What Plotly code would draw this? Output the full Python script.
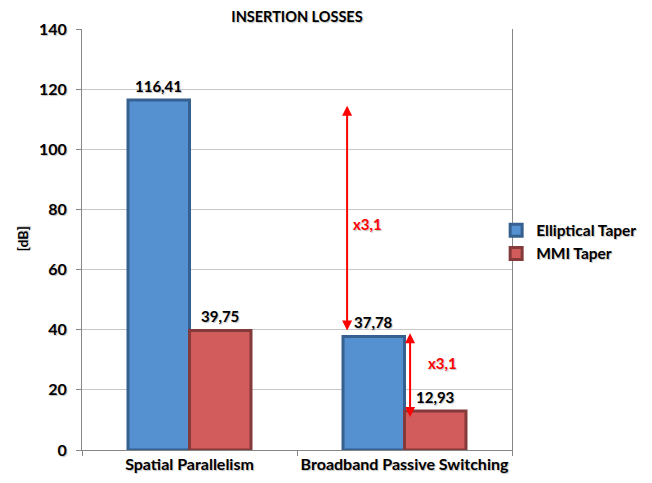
import plotly.graph_objects as go

categories = ["Spatial Parallelism", "Broadband Passive Switching"]
elliptical = [116.41, 37.78]
mmi = [39.75, 12.93]
series_names = ["Elliptical Taper", "MMI Taper"]
y_ticks = [0, 20, 40, 60, 80, 100, 120, 140]

# ratio arrows drawn on the second category
arrow_x = [0.733, 1.026]
arrow_top = [115.0, 39.3]
arrow_bottom = [39.7, 11.0]
ratio_text = ["x3,1", "x3,1"]
ratio_x = [0.83, 1.177]
ratio_y = [75.0, 29.0]

FONT = "Lato, 'Open Sans', Arial, sans-serif"
SHADOW = "1px 1px 1px rgba(0,0,0,0.25)"

def fmt(v):
    return f"{v:.2f}".replace(".", ",")

def bold(size, color="black"):
    return dict(family=FONT, size=size, color=color, weight="bold", shadow=SHADOW)

fig = go.Figure()
fig.add_trace(go.Bar(
    x=categories, y=elliptical, name=series_names[0],
    marker=dict(color="#5590D0", line=dict(color="#36608F", width=3)),
))
fig.add_trace(go.Bar(
    x=categories, y=mmi, name=series_names[1],
    marker=dict(color="#D25B5B", line=dict(color="#843A3A", width=3)),
))

# data labels
for i, vals in enumerate([elliptical, mmi]):
    for j, v in enumerate(vals):
        fig.add_annotation(
            x=j + (-0.143 if i == 0 else 0.143), y=v, text=fmt(v),
            showarrow=False, yshift=14, font=bold(15),
        )

# double-headed arrows and ratio labels
for k in range(len(arrow_x)):
    fig.add_annotation(
        x=arrow_x[k], y=arrow_bottom[k], ax=arrow_x[k], ay=arrow_top[k],
        xref="x", yref="y", axref="x", ayref="y", text="",
        showarrow=True, arrowhead=2, startarrowhead=2, arrowside="end+start",
        arrowsize=1, arrowwidth=2, arrowcolor="red",
    )
    fig.add_annotation(
        x=ratio_x[k], y=ratio_y[k], text=ratio_text[k], showarrow=False,
        font=bold(15, "red"),
    )

fig.add_annotation(
    text="[dB]", xref="paper", yref="paper", x=-0.1395, y=0.5, textangle=-90,
    showarrow=False, xanchor="center", yanchor="middle", font=bold(14),
)

fig.update_layout(
    width=644, height=475,
    margin=dict(l=74, r=140, t=21, b=33, autoexpand=False),
    paper_bgcolor="white", plot_bgcolor="white",
    barmode="group", bargap=0.428, bargroupgap=0,
    title=dict(text="INSERTION LOSSES", x=0.4488, xanchor="center", y=0.982, yanchor="middle",
               font=bold(14.5)),
    legend=dict(xref="container", yref="container", x=0.758, y=0.507,
                yanchor="middle", xanchor="left",
                bgcolor="rgba(0,0,0,0)", font=bold(15.5), itemwidth=30),
    showlegend=True,
)
fig.update_xaxes(
    automargin=False, tickangle=0,
    showline=True, linecolor="#868686", linewidth=1,
    ticks="outside", tickson="boundaries", ticklen=5, tickcolor="#868686",
    tickfont=bold(16),
)
fig.update_yaxes(
    automargin=False,
    range=[0, 140], tickvals=y_ticks, showgrid=True, gridcolor="#C8C8C8",
    showline=True, linecolor="#868686", linewidth=1, mirror=True,
    ticks="outside", ticklen=5, tickcolor="#868686", ticklabelstandoff=6,
    tickfont=bold(16),
)

fig.write_html("out.html")
